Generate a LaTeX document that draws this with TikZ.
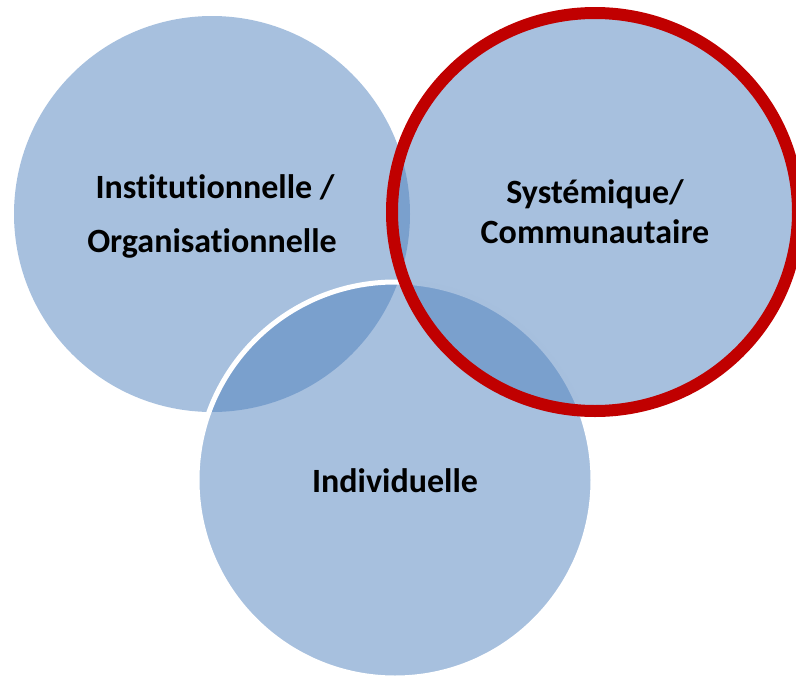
\documentclass[tikz,border=0pt]{standalone}
\usepackage{fontspec}
\setmainfont{Carlito}[RawFeature={-liga;-clig;-dlig}]
\usetikzlibrary{shapes.geometric}
\definecolor{vennblue}{HTML}{4F81BD}
\definecolor{vennred}{HTML}{C00000}
\begin{document}
\begin{tikzpicture}[x=1pt,y=-1pt,
  vennset/.style={circle, inner sep=0pt, fill=vennblue, fill opacity=0.5},
  whiteedge/.style={draw=white, line width=5pt},
  rededge/.style={draw=vennred, line width=12pt, draw opacity=1},
  vlabel/.style={anchor=base, text=black, text opacity=1, font=\bfseries\fontsize{34}{40}\selectfont}]
\useasboundingbox (0,0) rectangle (796,678);
\node[vennset, minimum size=396pt] (inst) at (212,214) {};
\node[vennset, whiteedge, minimum size=396pt] (indiv) at (395,480) {};
\node[ellipse, inner sep=0pt, fill=vennblue, fill opacity=0.5, minimum width=406pt, minimum height=398pt] (syst) at (595,212) {};
\node[ellipse, inner sep=0pt, minimum width=406pt, minimum height=398pt, rededge] (systring) at (595,212) {};
\node[vlabel] (inst1) at (215,198) {Institutionnelle /};
\node[vlabel] (inst2) at (212,252) {Organisationnelle};
\node[vlabel] (syst1) at (595,203) {Systémique/};
\node[vlabel] (syst2) at (595,243) {Communautaire};
\node[vlabel] (indivl) at (395,492) {Individuelle};
\end{tikzpicture}
\end{document}
